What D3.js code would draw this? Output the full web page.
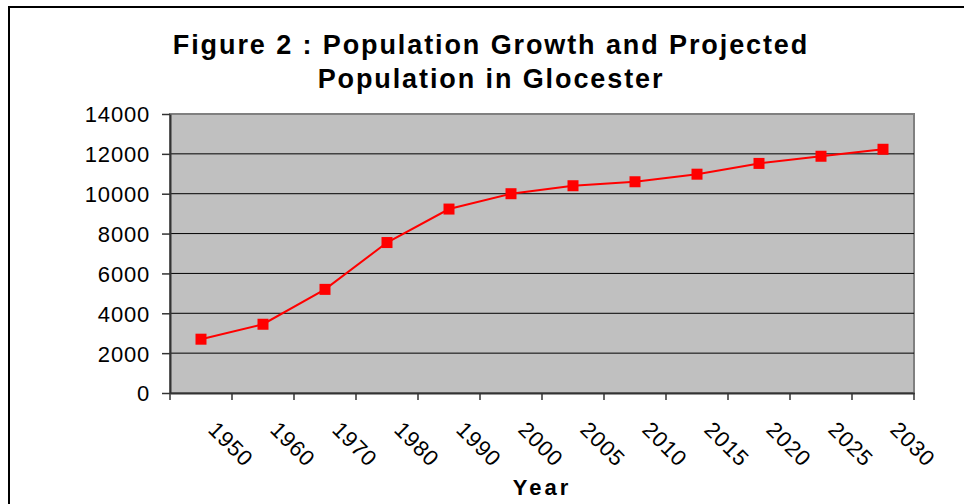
<!DOCTYPE html>
<meta charset="utf-8">
<style>
body { margin: 0; background: #fff; }
svg text { font-family: "Liberation Sans", Arial, sans-serif; fill: #000; }
.title { font-size: 27px; font-weight: bold; letter-spacing: 1.9px; }
.axis-title { font-size: 22px; font-weight: bold; letter-spacing: 3px; }
.ylab { font-size: 24px; font-weight: bold; }
.tick text { font-size: 22px; letter-spacing: 0.8px; }
.xlab { font-size: 23px; letter-spacing: 1px; }
</style>
<script src="https://d3js.org/d3.v7.min.js"></script>
<div id="chart"></div>
<script>

// chart data
var years = ["1950", "1960", "1970", "1980", "1990", "2000", "2005", "2010", "2015", "2020", "2025", "2030"];
var population = [2700, 3450, 5200, 7550, 9230, 10000, 10400, 10600, 10980, 11520, 11880, 12230];
var yTicks = [0, 2000, 4000, 6000, 8000, 10000, 12000, 14000];
var titleLines = ["Figure 2 : Population Growth and Projected", "Population in Glocester"];

var W = 964, H = 504;
var plot = {left: 170, right: 914, top: 114, bottom: 393};

var svg = d3.select("#chart").append("svg")
    .attr("width", W)
    .attr("height", H);

// outer chart border (runs off the right / bottom of the picture)
svg.append("rect")
    .attr("x", 9).attr("y", 7)
    .attr("width", 1000).attr("height", 600)
    .attr("fill", "#fff")
    .attr("stroke", "#000")
    .attr("stroke-width", 2);

var x = d3.scaleBand()
    .domain(years)
    .range([plot.left, plot.right])
    .padding(0);

var y = d3.scaleLinear()
    .domain([0, 14000])
    .range([plot.bottom, plot.top]);

// plot area
svg.append("rect")
    .attr("x", plot.left).attr("y", plot.top)
    .attr("width", plot.right - plot.left)
    .attr("height", plot.bottom - plot.top)
    .attr("fill", "#C0C0C0")
    .attr("stroke", "#808080")
    .attr("stroke-width", 2);

// gridlines
svg.append("g")
  .selectAll("line")
  .data(yTicks.filter(function(d) { return d > 0 && d < 14000; }))
  .join("line")
    .attr("x1", plot.left).attr("x2", plot.right)
    .attr("y1", function(d) { return y(d); })
    .attr("y2", function(d) { return y(d); })
    .attr("stroke", "#000")
    .attr("stroke-width", 1);

// y axis
var yAxis = svg.append("g")
    .attr("transform", "translate(" + plot.left + ",0)")
    .call(d3.axisLeft(y).tickValues(yTicks).tickFormat(d3.format("d"))
      .tickSize(8).tickPadding(12).tickSizeOuter(0));
yAxis.select(".domain").attr("stroke", "#333").attr("stroke-width", 2);
yAxis.selectAll(".tick line").attr("stroke", "#333").attr("stroke-width", 1.5);
yAxis.selectAll(".tick text").attr("dy", "0.36em");

// x axis: labels from the band axis, ticks on the category edges
var xAxis = svg.append("g")
    .attr("transform", "translate(0," + plot.bottom + ")")
    .call(d3.axisBottom(x).tickSize(0).tickSizeOuter(0));
xAxis.select(".domain").attr("stroke", "#333").attr("stroke-width", 2);
xAxis.selectAll(".tick text")
    .attr("class", "xlab")
    .attr("text-anchor", "start")
    .attr("x", 0).attr("y", 0).attr("dy", 0)
    .attr("transform", "translate(6,38) rotate(45)");

var edges = years.map(function(d) { return x(d); }).concat([plot.right]);
xAxis.append("g")
  .selectAll("line")
  .data(edges)
  .join("line")
    .attr("x1", function(d) { return d; })
    .attr("x2", function(d) { return d; })
    .attr("y1", 0).attr("y2", 7)
    .attr("stroke", "#333")
    .attr("stroke-width", 1.5);

// series line and markers
var cx = function(d, i) { return x(years[i]) + x.bandwidth() / 2; };
var line = d3.line()
    .x(function(d, i) { return cx(d, i); })
    .y(function(d) { return y(d); });

svg.append("path")
    .datum(population)
    .attr("d", line)
    .attr("fill", "none")
    .attr("stroke", "#FF0000")
    .attr("stroke-width", 2);

svg.append("g")
  .selectAll("rect")
  .data(population)
  .join("rect")
    .attr("x", function(d, i) { return cx(d, i) - 5.5; })
    .attr("y", function(d) { return y(d) - 5.5; })
    .attr("width", 11).attr("height", 11)
    .attr("fill", "#FF0000");

// title
svg.append("g")
  .selectAll("text")
  .data(titleLines)
  .join("text")
    .attr("class", "title")
    .attr("x", 491)
    .attr("y", function(d, i) { return 54 + i * 33.5; })
    .attr("text-anchor", "middle")
    .text(function(d) { return d; });

// axis titles
svg.append("text")
    .attr("class", "axis-title")
    .attr("x", (plot.left + plot.right) / 2)
    .attr("y", 495)
    .attr("text-anchor", "middle")
    .text("Year");

// y title is clipped in the original, showing "Populatic"
svg.append("clipPath").attr("id", "yclip")
  .append("rect")
    .attr("x", 0).attr("y", 188)
    .attr("width", 120).attr("height", 200);

svg.append("text")
    .attr("class", "ylab")
    .attr("clip-path", "url(#yclip)")
    .attr("transform", "translate(60,300) rotate(-90)")
    .attr("text-anchor", "start")
    .text("Population");

</script>
